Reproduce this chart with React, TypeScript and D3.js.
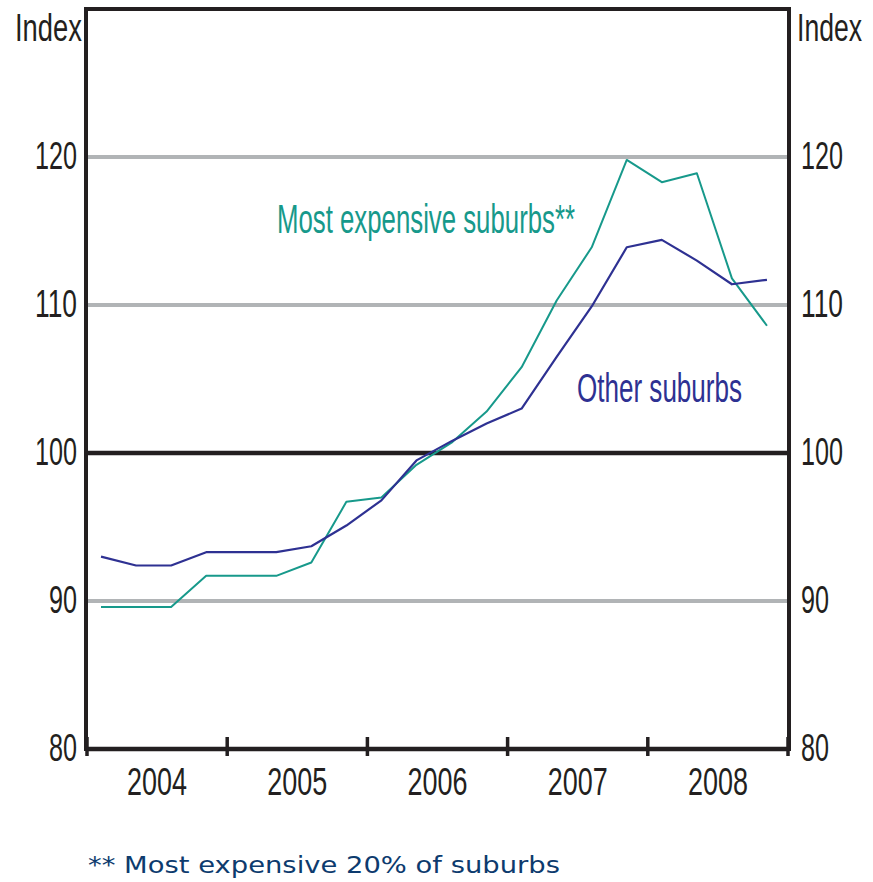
import React from "react";
import * as d3 from "d3";

const quarters: number[] = [
  2004.1, 2004.35, 2004.6, 2004.85,
  2005.1, 2005.35, 2005.6, 2005.85,
  2006.1, 2006.35, 2006.6, 2006.85,
  2007.1, 2007.35, 2007.6, 2007.85,
  2008.1, 2008.35, 2008.6, 2008.85,
];
const mostExpensive: number[] = [
  89.6, 89.6, 89.6, 91.7, 91.7, 91.7, 92.6, 96.7, 97.0, 99.2,
  100.7, 102.8, 105.8, 110.3, 113.9, 119.8, 118.3, 118.9, 111.8, 108.6,
];
const otherSuburbs: number[] = [
  93.0, 92.4, 92.4, 93.3, 93.3, 93.3, 93.7, 95.1, 96.8, 99.5,
  100.8, 102.0, 103.0, 106.5, 109.9, 113.9, 114.4, 113.0, 111.4, 111.7,
];
const yearTicks: number[] = [2004, 2005, 2006, 2007, 2008, 2009];
const yearLabels: string[] = ["2004", "2005", "2006", "2007", "2008"];
const yTicks: number[] = [80, 90, 100, 110, 120];
const gridValues: number[] = [90, 110, 120];

const W = 873;
const H = 882;
const LEFT = 86;
const RIGHT = 789;
const TOP = 9;
const BOTTOM = 749;

const GREEN = "#17998b";
const BLUE = "#2e3192";
const INK = "#231f20";
const GRID = "#b1b4b6";
const LABEL_FONT = "'Liberation Sans', Arial, sans-serif";

export default function App() {
  const x = d3.scaleLinear().domain([2004, 2009]).range([LEFT + 1, RIGHT - 1]);
  const y = d3.scaleLinear().domain([80, 130]).range([BOTTOM, TOP]);

  const line = d3
    .line<number>()
    .x((_, i) => x(quarters[i]))
    .y((d) => y(d));

  return (
    <svg
      width={W}
      height={H}
      style={{ position: "absolute", left: 0, top: 0, background: "#fff" }}
    >
      {/* gridlines */}
      {gridValues.map((v) => (
        <line key={v} x1={LEFT} x2={RIGHT} y1={y(v)} y2={y(v)} stroke={GRID} strokeWidth={4} />
      ))}
      <line x1={LEFT} x2={RIGHT} y1={y(100)} y2={y(100)} stroke={INK} strokeWidth={4.5} />

      {/* series */}
      <path d={line(mostExpensive) || ""} fill="none" stroke={GREEN} strokeWidth={2} strokeLinejoin="round" />
      <path d={line(otherSuburbs) || ""} fill="none" stroke={BLUE} strokeWidth={2.2} strokeLinejoin="round" />

      {/* frame */}
      <line x1={LEFT} x2={RIGHT} y1={TOP} y2={TOP} stroke={INK} strokeWidth={4} />
      <line x1={LEFT} x2={LEFT} y1={TOP - 2} y2={BOTTOM + 2} stroke={INK} strokeWidth={4} />
      <line x1={RIGHT} x2={RIGHT} y1={TOP - 2} y2={BOTTOM + 2} stroke={INK} strokeWidth={4} />
      <line x1={LEFT} x2={RIGHT} y1={BOTTOM} y2={BOTTOM} stroke={INK} strokeWidth={4.5} />

      {/* x ticks */}
      {yearTicks.map((t) => (
        <line key={t} x1={x(t)} x2={x(t)} y1={737} y2={756} stroke={INK} strokeWidth={3.5} />
      ))}
      {yearLabels.map((lab, i) => (
        <text
          key={lab}
          x={(x(yearTicks[i]) + x(yearTicks[i + 1])) / 2 - 30}
          y={795}
          fontFamily={LABEL_FONT}
          fontSize={39}
          fill={INK}
          textLength={60}
          lengthAdjust="spacingAndGlyphs"
        >
          {lab}
        </text>
      ))}

      {/* y labels left and right */}
      {yTicks.map((v) => {
        const s = String(v);
        const w = s.length * 14;
        return (
          <g key={v}>
            <text
              x={77 - w}
              y={y(v) + 12}
              fontFamily={LABEL_FONT}
              fontSize={39}
              fill={INK}
              textLength={w}
              lengthAdjust="spacingAndGlyphs"
            >
              {s}
            </text>
            <text
              x={801}
              y={y(v) + 12}
              fontFamily={LABEL_FONT}
              fontSize={39}
              fill={INK}
              textLength={w}
              lengthAdjust="spacingAndGlyphs"
            >
              {s}
            </text>
          </g>
        );
      })}
      <g transform="translate(15,41) scale(0.72,1)">
        <text x={0} y={0} fontFamily={LABEL_FONT} fontSize={38} fill={INK}>
          Index
        </text>
      </g>
      <g transform="translate(797,41) scale(0.70,1)">
        <text x={0} y={0} fontFamily={LABEL_FONT} fontSize={38} fill={INK}>
          Index
        </text>
      </g>

      {/* series labels */}
      <text x={277} y={233} fontFamily={LABEL_FONT} fontSize={40} fill={GREEN} textLength={298} lengthAdjust="spacingAndGlyphs">
        Most expensive suburbs**
      </text>
      <text x={577} y={402} fontFamily={LABEL_FONT} fontSize={40} fill={BLUE} textLength={165} lengthAdjust="spacingAndGlyphs">
        Other suburbs
      </text>

      {/* footnote */}
      <text x={88} y={873} fontFamily="'DejaVu Sans', Verdana, sans-serif" fontSize={23} fill="#0d3b6e" textLength={472} lengthAdjust="spacingAndGlyphs">
        ** Most expensive 20% of suburbs
      </text>
    </svg>
  );
}
